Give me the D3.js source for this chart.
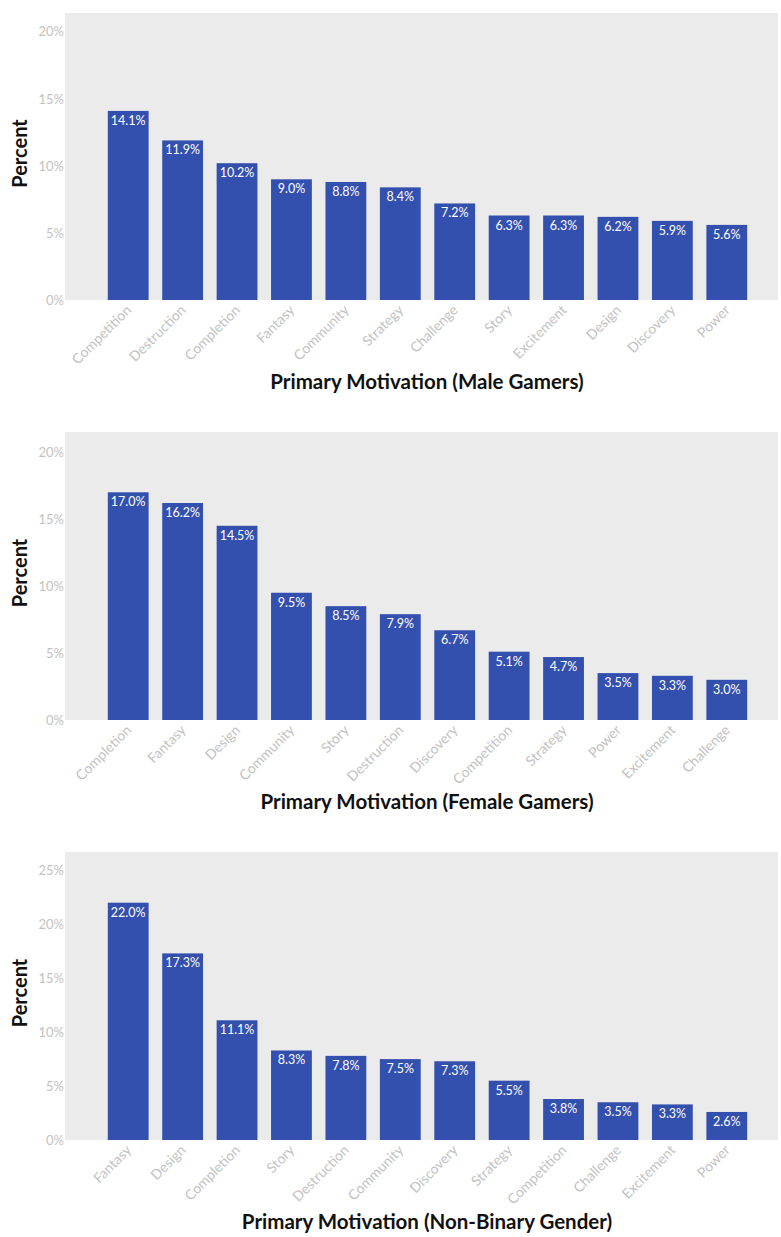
<!DOCTYPE html>
<html>
<head>
<meta charset="utf-8">
<script src="https://cdn.jsdelivr.net/npm/d3@7"></script>
<style>
  body { margin: 0; background: #fff; }
  text { font-family: Lato, "Open Sans", sans-serif; }
</style>
</head>
<body>
<script>
// male gamers
var maleCats = ["Competition", "Destruction", "Completion", "Fantasy", "Community", "Strategy", "Challenge", "Story", "Excitement", "Design", "Discovery", "Power"];
var maleVals = [14.1, 11.9, 10.2, 9.0, 8.8, 8.4, 7.2, 6.3, 6.3, 6.2, 5.9, 5.6];
// female gamers
var femaleCats = ["Completion", "Fantasy", "Design", "Community", "Story", "Destruction", "Discovery", "Competition", "Strategy", "Power", "Excitement", "Challenge"];
var femaleVals = [17.0, 16.2, 14.5, 9.5, 8.5, 7.9, 6.7, 5.1, 4.7, 3.5, 3.3, 3.0];
// non-binary
var nbCats = ["Fantasy", "Design", "Completion", "Story", "Destruction", "Community", "Discovery", "Strategy", "Competition", "Challenge", "Excitement", "Power"];
var nbVals = [22.0, 17.3, 11.1, 8.3, 7.8, 7.5, 7.3, 5.5, 3.8, 3.5, 3.3, 2.6];

var ticks20 = [0, 5, 10, 15, 20];
var ticks25 = [0, 5, 10, 15, 20, 25];

var titles = ["Primary Motivation (Male Gamers)", "Primary Motivation (Female Gamers)", "Primary Motivation (Non-Binary Gender)"];

var width = 781, height = 1237;

var svg = d3.select("body")
    .append("svg")
    .attr("width", width)
    .attr("height", height);

function drawPanel(cats, vals, ticks, yMax, top, bottom, title) {
    var g = svg.append("g");

    var x = d3.scaleBand()
        .domain(cats)
        .range([101, 754])
        .paddingInner(0.25)
        .paddingOuter(0.125);

    var y = d3.scaleLinear()
        .domain([0, yMax])
        .range([bottom, top]);

    //panel background
    g.append("rect")
        .attr("x", 65)
        .attr("y", top)
        .attr("width", 713)
        .attr("height", bottom - top)
        .attr("fill", "#ebebeb");

    //y axis
    var yAxis = g.append("g")
        .attr("transform", "translate(65,0)")
        .call(d3.axisLeft(y).tickValues(ticks).tickSize(0).tickPadding(1).tickFormat(function(d){ return d + "%"; }));
    yAxis.select(".domain").remove();
    yAxis.selectAll("text")
        .attr("fill", "#c2c2c2")
        .style("font-size", "13px")
        .style("font-family", "Lato, sans-serif");

    //bars
    g.selectAll(".bar")
        .data(vals)
        .enter()
        .append("rect")
        .attr("class", "bar")
        .attr("x", function(d, i){ return x(cats[i]); })
        .attr("y", function(d){ return y(d); })
        .attr("width", x.bandwidth())
        .attr("height", function(d){ return y(0) - y(d); })
        .attr("fill", "#3450ae");

    //value labels
    g.selectAll(".val")
        .data(vals)
        .enter()
        .append("text")
        .attr("class", "val")
        .attr("x", function(d, i){ return x(cats[i]) + x.bandwidth() / 2; })
        .attr("y", function(d){ return y(d) + 14; })
        .attr("text-anchor", "middle")
        .attr("fill", "#fff")
        .style("font-size", "12.5px")
        .text(function(d){ return d.toFixed(1) + "%"; });

    //x labels
    g.selectAll(".xlab")
        .data(cats)
        .enter()
        .append("text")
        .attr("class", "xlab")
        .attr("transform", function(d){
            return "translate(" + (x(d) + x.bandwidth() / 2 + 4) + "," + (bottom + 11) + ") rotate(-45)";
        })
        .attr("text-anchor", "end")
        .attr("fill", "#c2c2c2")
        .style("font-size", "14px")
        .text(function(d){ return d; });

    //axis titles
    g.append("text")
        .attr("x", 427)
        .attr("y", bottom + 89)
        .attr("text-anchor", "middle")
        .style("font-size", "20.5px")
        .style("font-weight", "bold")
        .attr("fill", "#111")
        .text(title);

    g.append("text")
        .attr("transform", "translate(27," + ((top + bottom) / 2 - 3) + ") rotate(-90)")
        .attr("text-anchor", "middle")
        .style("font-size", "20px")
        .style("font-weight", "bold")
        .attr("fill", "#111")
        .text("Percent");
}

drawPanel(maleCats, maleVals, ticks20, 21.4, 13, 300, titles[0]);
drawPanel(femaleCats, femaleVals, ticks20, 21.5, 432, 720, titles[1]);
drawPanel(nbCats, nbVals, ticks25, 26.7, 852, 1140, titles[2]);
</script>
</body>
</html>
